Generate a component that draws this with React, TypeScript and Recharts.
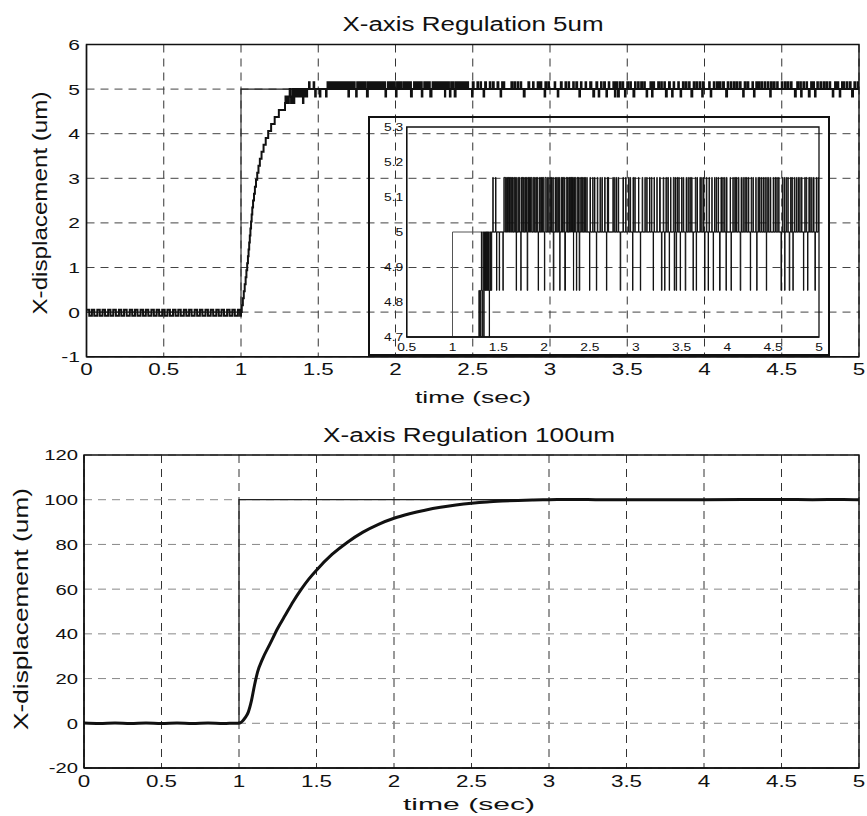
import React from 'react'
import { LineChart, Line, XAxis, YAxis, CartesianGrid, ReferenceArea } from 'recharts'

const FONT = '"Liberation Sans", Arial, Helvetica, sans-serif'
const INK = '#111'

// axes
const TIME_TICKS = [0, 0.5, 1, 1.5, 2, 2.5, 3, 3.5, 4, 4.5, 5]
const Y5_TICKS = [-1, 0, 1, 2, 3, 4, 5, 6]
const Y100_TICKS = [-20, 0, 20, 40, 60, 80, 100, 120]
const INSET_X_TICKS = [0.5, 1, 1.5, 2, 2.5, 3, 3.5, 4, 4.5, 5]
const INSET_Y_TICKS = [4.7, 4.8, 4.9, 5, 5.1, 5.2, 5.3]

// step commands [t, um]
const REF_5 = [[0, 0], [1, 0], [1, 5], [5, 5]]
const REF_100 = [[0, 0], [1, 0], [1, 100], [5, 100]]

// 5um response, encoder levels around the set point
const SETTLED = 5
const HI = 5.156
const LO = 4.833

// chatter around zero before the step [t, um]
const NOISE_5 = [
  [0, 0.05], [0.018, -0.08], [0.035, 0.05], [0.05, -0.08], [0.07, 0.05], [0.086, -0.08],
  [0.104, 0.05], [0.12, -0.08], [0.14, 0.05], [0.155, -0.08], [0.173, 0.05], [0.19, -0.08],
  [0.21, 0.05], [0.225, -0.08], [0.243, 0.05], [0.26, -0.08], [0.28, 0.05], [0.296, -0.08],
  [0.314, 0.05], [0.33, -0.08], [0.35, 0.05], [0.366, -0.08], [0.384, 0.05], [0.4, -0.08],
  [0.42, 0.05], [0.436, -0.08], [0.454, 0.05], [0.47, -0.08], [0.49, 0.05], [0.506, -0.08],
  [0.524, 0.05], [0.54, -0.08], [0.56, 0.05], [0.576, -0.08], [0.594, 0.05], [0.61, -0.08],
  [0.63, 0.05], [0.646, -0.08], [0.664, 0.05], [0.68, -0.08], [0.7, 0.05], [0.716, -0.08],
  [0.734, 0.05], [0.75, -0.08], [0.77, 0.05], [0.786, -0.08], [0.804, 0.05], [0.82, -0.08],
  [0.84, 0.05], [0.856, -0.08], [0.874, 0.05], [0.89, -0.08], [0.91, 0.05], [0.926, -0.08],
  [0.944, 0.05], [0.96, -0.08], [0.98, 0.05], [0.994, -0.08],
]

// staircase rise after the step [t, um]
const RISE_5 = [
  [1.0, 0], [1.005, 0.156], [1.012, 0.313], [1.018, 0.469], [1.024, 0.625], [1.03, 0.781],
  [1.035, 0.938], [1.04, 1.094], [1.045, 1.25], [1.049, 1.406], [1.053, 1.563], [1.057, 1.719],
  [1.061, 1.875], [1.065, 2.031], [1.069, 2.188], [1.073, 2.344], [1.078, 2.5], [1.084, 2.656],
  [1.09, 2.813], [1.097, 2.969], [1.105, 3.125], [1.113, 3.281], [1.122, 3.438], [1.133, 3.594],
  [1.146, 3.75], [1.16, 3.906], [1.176, 4.063], [1.195, 4.219], [1.218, 4.375], [1.245, 4.531],
  [1.285, 4.688],
]

// toggling between the last levels before settling [t, um]
const CHATTER_5 = [
  [1.288, 4.833], [1.293, 4.688], [1.299, 4.833], [1.304, 4.688], [1.31, 4.833], [1.315, 5.0],
  [1.319, 4.833], [1.324, 4.688], [1.329, 4.833], [1.333, 5.0], [1.337, 4.833], [1.341, 4.688],
  [1.345, 4.833], [1.349, 5.0], [1.353, 4.833], [1.357, 5.0], [1.361, 4.833], [1.365, 5.0],
  [1.37, 4.833], [1.374, 5.0], [1.379, 4.833], [1.383, 5.0], [1.388, 4.833], [1.393, 5.0],
  [1.398, 4.833], [1.401, 4.688], [1.404, 4.833], [1.408, 5.0], [1.413, 4.833], [1.418, 5.0],
  [1.423, 4.833], [1.428, 5.0],
]

// short visits to the level above / below the set point [t, dwell]
const UP_SPIKES = [
  [1.44, 0.004], [1.47, 0.004], [1.56, 0.012], [1.575, 0.006], [1.59, 0.01], [1.605, 0.008],
  [1.618, 0.004], [1.63, 0.006], [1.645, 0.006], [1.656, 0.004], [1.67, 0.008], [1.686, 0.004],
  [1.7, 0.004], [1.716, 0.006], [1.73, 0.006], [1.752, 0.004], [1.76, 0.008], [1.776, 0.004],
  [1.79, 0.006], [1.802, 0.006], [1.822, 0.004], [1.83, 0.01], [1.845, 0.006], [1.86, 0.008],
  [1.88, 0.006], [1.896, 0.004], [1.91, 0.006], [1.926, 0.006], [1.95, 0.008], [1.966, 0.004],
  [1.976, 0.006], [1.99, 0.006], [2.01, 0.01], [2.03, 0.006], [2.05, 0.004], [2.066, 0.006],
  [2.08, 0.006], [2.096, 0.004], [2.12, 0.004], [2.136, 0.006], [2.15, 0.006], [2.166, 0.004],
  [2.186, 0.006], [2.196, 0.004], [2.21, 0.012], [2.24, 0.008], [2.256, 0.004], [2.27, 0.006],
  [2.281, 0.004], [2.29, 0.01], [2.302, 0.004], [2.31, 0.012], [2.328, 0.004], [2.34, 0.006],
  [2.36, 0.008], [2.372, 0.004], [2.39, 0.004], [2.406, 0.006], [2.42, 0.006], [2.436, 0.004],
  [2.45, 0.004], [2.466, 0.004], [2.5, 0.006], [2.53, 0.004], [2.55, 0.004], [2.58, 0.006],
  [2.61, 0.004], [2.63, 0.006], [2.66, 0.006], [2.69, 0.004], [2.7, 0.004], [2.75, 0.006],
  [2.77, 0.004], [2.79, 0.004], [2.81, 0.004], [2.86, 0.006], [2.89, 0.004], [2.92, 0.008],
  [2.94, 0.004], [2.97, 0.006], [2.99, 0.004], [3.03, 0.004], [3.07, 0.006], [3.1, 0.004],
  [3.12, 0.004], [3.15, 0.004], [3.17, 0.006], [3.2, 0.004], [3.23, 0.004], [3.26, 0.008],
  [3.3, 0.006], [3.33, 0.004], [3.35, 0.006], [3.38, 0.004], [3.41, 0.008], [3.43, 0.004],
  [3.45, 0.006], [3.47, 0.004], [3.5, 0.006], [3.52, 0.004], [3.55, 0.004], [3.57, 0.004],
  [3.59, 0.006], [3.61, 0.004], [3.65, 0.008], [3.67, 0.004], [3.7, 0.006], [3.72, 0.004],
  [3.74, 0.004], [3.77, 0.006], [3.8, 0.004], [3.83, 0.004], [3.86, 0.006], [3.88, 0.004],
  [3.9, 0.004], [3.93, 0.006], [3.95, 0.004], [3.97, 0.004], [3.99, 0.006], [4.03, 0.004],
  [4.06, 0.004], [4.08, 0.008], [4.1, 0.004], [4.12, 0.006], [4.15, 0.004], [4.17, 0.004],
  [4.19, 0.006], [4.21, 0.004], [4.23, 0.004], [4.26, 0.006], [4.28, 0.004], [4.31, 0.004],
  [4.335, 0.004], [4.35, 0.006], [4.37, 0.004], [4.39, 0.004], [4.41, 0.004], [4.43, 0.006],
  [4.45, 0.004], [4.47, 0.004], [4.5, 0.004], [4.52, 0.006], [4.54, 0.004], [4.56, 0.004],
  [4.6, 0.006], [4.62, 0.004], [4.64, 0.004], [4.66, 0.004], [4.69, 0.006], [4.705, 0.004],
  [4.73, 0.004], [4.75, 0.004], [4.77, 0.006], [4.79, 0.004], [4.81, 0.004], [4.845, 0.004],
  [4.86, 0.006], [4.89, 0.004], [4.9, 0.004], [4.92, 0.004], [4.94, 0.006], [4.97, 0.004],
  [4.99, 0.004],
]
const DOWN_SPIKES = [
  [1.48, 0.004], [1.51, 0.004], [1.55, 0.004], [1.695, 0.004], [1.745, 0.004], [1.815, 0.006],
  [1.935, 0.004], [2.003, 0.004], [2.1, 0.006], [2.17, 0.004], [2.225, 0.008], [2.32, 0.004],
  [2.352, 0.004], [2.383, 0.006], [2.495, 0.004], [2.57, 0.004], [2.68, 0.004], [2.83, 0.006],
  [2.965, 0.004], [3.05, 0.004], [3.19, 0.004], [3.28, 0.006], [3.315, 0.004], [3.365, 0.004],
  [3.42, 0.004], [3.44, 0.006], [3.485, 0.004], [3.54, 0.006], [3.625, 0.004], [3.66, 0.004],
  [3.75, 0.006], [3.79, 0.004], [3.845, 0.004], [3.915, 0.006], [3.985, 0.004], [4.04, 0.004],
  [4.14, 0.006], [4.25, 0.004], [4.32, 0.004], [4.425, 0.004], [4.585, 0.006], [4.625, 0.004],
  [4.675, 0.006], [4.715, 0.004], [4.83, 0.004], [4.875, 0.004], [4.955, 0.006],
]

// 100um response [t, um]
const RESP_100 = [
  [0, 0.1], [0.1, -0.1], [0.2, 0.15], [0.3, -0.1], [0.4, 0.1], [0.5, -0.15], [0.6, 0.1],
  [0.7, -0.1], [0.8, 0.15], [0.9, -0.1], [0.98, 0.05], [1.0, 0], [1.02, 0.8], [1.04, 2.5],
  [1.06, 5], [1.08, 10], [1.1, 17], [1.12, 23], [1.15, 28.5], [1.2, 35.5], [1.25, 42.5],
  [1.3, 48.5], [1.35, 54.5], [1.4, 59.8], [1.45, 64.5], [1.5, 68.5], [1.6, 75.5], [1.7, 81],
  [1.8, 85.5], [1.9, 89], [2.0, 91.7], [2.1, 93.7], [2.2, 95.3], [2.3, 96.6], [2.4, 97.6],
  [2.5, 98.4], [2.6, 99], [2.7, 99.4], [2.8, 99.7], [2.9, 99.9], [3.0, 100], [3.2, 100.1],
  [3.3, 100], [3.5, 100], [4.0, 100], [4.5, 100.1], [4.7, 100], [4.9, 100.1], [5, 100],
]

const toPts = (pairs: number[][]) => pairs.map(([t, v]) => ({ t, v }))
const spikes = (list: number[][], level: number) =>
  list.flatMap(([t, w]) => [{ t, v: level }, { t: t + w, v: SETTLED }])

const ref5 = toPts(REF_5)
const ref100 = toPts(REF_100)
const resp100 = toPts(RESP_100)
const resp5 = [
  ...toPts(NOISE_5), ...toPts(RISE_5), ...toPts(CHATTER_5),
  ...spikes(UP_SPIKES, HI), ...spikes(DOWN_SPIKES, LO), { t: 5, v: SETTLED },
].sort((a, b) => a.t - b.t)

// the reference raster is stretched sideways, so the labels are too
function XTick(p: any) {
  return (
    <text transform={`translate(${p.x},${p.y}) scale(${p.sx},1)`} textAnchor="middle" dy="0.71em"
      fontSize={p.fs} fontFamily={FONT} fill={INK}>{p.payload.value}</text>
  )
}
function YTick(p: any) {
  return (
    <text transform={`translate(${p.x},${p.y}) scale(${p.sx},1)`} textAnchor="end" dy="0.36em"
      fontSize={p.fs} fontFamily={FONT} fill={INK}>{p.payload.value}</text>
  )
}

// box round the plot plus inward ticks on top and right
function Frame({ xTicks, yTicks, xDomain, yDomain, size, sw }: any) {
  return [
    <ReferenceArea key="box" x1={xDomain[0]} x2={xDomain[1]} y1={yDomain[0]} y2={yDomain[1]}
      fill="none" fillOpacity={0} stroke={INK} strokeWidth={sw} ifOverflow="visible" />,
    <XAxis key="ft" xAxisId="top" orientation="top" type="number" domain={xDomain} ticks={xTicks}
      height={1} mirror tick={false} tickSize={size} stroke={INK} axisLine={false} allowDataOverflow />,
    <YAxis key="fr" yAxisId="right" orientation="right" type="number" domain={yDomain} ticks={yTicks}
      width={1} mirror tick={false} tickSize={size} stroke={INK} axisLine={false} allowDataOverflow />,
  ]
}

function TopChart() {
  return (
    <LineChart width={867} height={400} margin={{ top: 44.5, right: 8, bottom: 13.3, left: 46.5 }}>
      <CartesianGrid horizontal={false} stroke="#333" strokeDasharray="8 6" />
      <CartesianGrid vertical={false} stroke="#444" strokeDasharray="8 6" />
      <XAxis dataKey="t" type="number" domain={[0, 5]} ticks={TIME_TICKS} allowDataOverflow
        height={30} tickLine={false} tickMargin={0.6} stroke={INK} strokeWidth={1.4}
        tick={(p: any) => <XTick {...p} fs={16} sx={1.4} />} />
      <YAxis type="number" domain={[-1, 6]} ticks={Y5_TICKS} allowDataOverflow width={40}
        tickLine={false} tickMargin={0.5} stroke={INK} strokeWidth={1.4}
        tick={(p: any) => <YTick {...p} fs={15} sx={1.4} />} />
      {Frame({ xTicks: TIME_TICKS, yTicks: Y5_TICKS, xDomain: [0, 5], yDomain: [-1, 6], size: 5, sw: 1.4 })}
      <Line data={ref5} dataKey="v" type="linear" stroke="#222" strokeWidth={1.1} dot={false}
        isAnimationActive={false} />
      <Line data={resp5} dataKey="v" type="stepAfter" stroke={INK} strokeWidth={2} dot={false}
        isAnimationActive={false} />
    </LineChart>
  )
}

function Inset() {
  return (
    <LineChart width={458} height={236} margin={{ top: 9, right: 9, bottom: 0, left: 6.7 }}>
      <XAxis xAxisId="inb" orientation="bottom" type="number" domain={[0.5, 5]} ticks={INSET_X_TICKS}
        height={1} mirror tick={false} tickSize={4} stroke={INK} axisLine={false} allowDataOverflow />
      <XAxis dataKey="t" type="number" domain={[0.5, 5]} ticks={INSET_X_TICKS} allowDataOverflow
        height={17} tickLine={false} tickSize={2} tickMargin={4} stroke={INK} strokeWidth={1.3}
        tick={(p: any) => <XTick {...p} fs={11.5} sx={1.2} />} />
      <YAxis type="number" domain={[4.7, 5.3]} ticks={INSET_Y_TICKS} allowDataOverflow width={30}
        tickLine={false} tickSize={2} tickMargin={1.5} stroke={INK} strokeWidth={1.3}
        tick={(p: any) => <YTick {...p} fs={11.5} sx={1.2} />} />
      {Frame({ xTicks: INSET_X_TICKS, yTicks: INSET_Y_TICKS, xDomain: [0.5, 5], yDomain: [4.7, 5.3], size: 4, sw: 1.3 })}
      <Line data={ref5} dataKey="v" type="linear" stroke="#555" strokeWidth={1} dot={false}
        isAnimationActive={false} />
      <Line data={resp5} dataKey="v" type="stepAfter" stroke={INK} strokeWidth={1} dot={false}
        isAnimationActive={false} />
    </LineChart>
  )
}

function BottomChart() {
  return (
    <LineChart width={867} height={406} margin={{ top: 45, right: 8, bottom: 18, left: 39 }}>
      <CartesianGrid horizontal={false} stroke="#333" strokeDasharray="8 6" />
      <CartesianGrid vertical={false} stroke="#888" strokeDasharray="8 6" />
      <XAxis dataKey="t" type="number" domain={[0, 5]} ticks={TIME_TICKS} allowDataOverflow
        height={30} tickLine={false} tickMargin={2} stroke={INK} strokeWidth={1.4}
        tick={(p: any) => <XTick {...p} fs={16} sx={1.4} />} />
      <YAxis type="number" domain={[-20, 120]} ticks={Y100_TICKS} allowDataOverflow width={45}
        tickLine={false} tickMargin={0} stroke={INK} strokeWidth={1.4}
        tick={(p: any) => <YTick {...p} fs={15} sx={1.35} />} />
      {Frame({ xTicks: TIME_TICKS, yTicks: Y100_TICKS, xDomain: [0, 5], yDomain: [-20, 120], size: 5, sw: 1.4 })}
      <Line data={ref100} dataKey="v" type="linear" stroke="#222" strokeWidth={1.3} dot={false}
        isAnimationActive={false} />
      <Line data={resp100} dataKey="v" type="monotone" stroke={INK} strokeWidth={3} dot={false}
        isAnimationActive={false} />
    </LineChart>
  )
}

export default function App() {
  const txt = { fontFamily: FONT, fill: INK, lengthAdjust: 'spacingAndGlyphs' as const }
  return (
    <div style={{ position: 'absolute', left: 0, top: 0, width: 867, height: 816, background: '#fff' }}>
      <div style={{ position: 'absolute', left: 0, top: 0 }}><TopChart /></div>
      <div style={{ position: 'absolute', left: 368, top: 116, width: 462, height: 240,
        border: '2px solid #111', boxSizing: 'border-box' }}>
        <Inset />
      </div>
      <div style={{ position: 'absolute', left: 0, top: 410 }}><BottomChart /></div>
      <svg width={867} height={816} style={{ position: 'absolute', left: 0, top: 0, pointerEvents: 'none' }}>
        <text x={473} y={30.5} textAnchor="middle" fontSize={19.5} textLength={261} {...txt}>X-axis Regulation 5um</text>
        <text x={473} y={403} textAnchor="middle" fontSize={17} textLength={116} {...txt}>time (sec)</text>
        <text transform="translate(46.7,203) rotate(-90)" textAnchor="middle" fontSize={21} textLength={223} {...txt}>X-displacement (um)</text>
        <text x={469} y={441.7} textAnchor="middle" fontSize={20} textLength={292} {...txt}>X-axis Regulation 100um</text>
        <text x={469} y={810} textAnchor="middle" fontSize={17} textLength={132} {...txt}>time (sec)</text>
        <text transform="translate(28,609) rotate(-90)" textAnchor="middle" fontSize={21} textLength={242} {...txt}>X-displacement (um)</text>
      </svg>
    </div>
  )
}
